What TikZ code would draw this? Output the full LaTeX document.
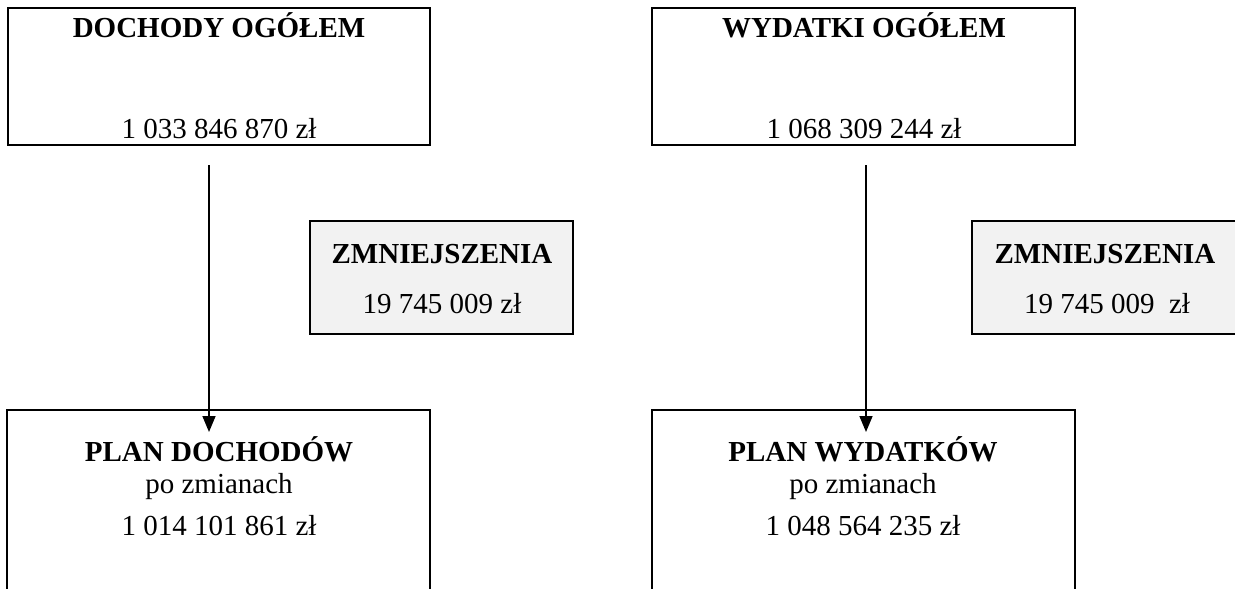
\documentclass[tikz,border=0pt]{standalone}
\usepackage{fontspec}
\setmainfont{Liberation Serif}
\usetikzlibrary{arrows.meta}
\definecolor{boxgrey}{HTML}{F2F2F2}
\begin{document}
\begin{tikzpicture}[x=1pt,y=-1pt,
  box/.style={draw=black,line width=2pt,fill=white,rectangle,inner sep=0pt,outer sep=0pt,anchor=north west},
  greybox/.style={box,fill=boxgrey},
  txt/.style={anchor=base,inner sep=0pt,font=\fontsize{29}{34}\selectfont},
  btxt/.style={anchor=base,inner sep=0pt,font=\fontsize{29}{34}\selectfont\bfseries},
  arr/.style={line width=1.6pt,-{Triangle[width=13pt,length=16pt]}}]
\useasboundingbox (0,0) rectangle (1235,589);
\clip (0,0) rectangle (1235,589);
% boxes
\node[box,minimum width=422pt,minimum height=137pt] (tl) at (8,8) {};
\node[box,minimum width=423pt,minimum height=137pt] (tr) at (652,8) {};
\node[greybox,minimum width=263pt,minimum height=113pt] (zl) at (310,221) {};
\node[greybox,minimum width=290pt,minimum height=113pt] (zr) at (972,221) {};
\node[box,minimum width=423pt,minimum height=220pt] (bl) at (7,410) {};
\node[box,minimum width=423pt,minimum height=220pt] (br) at (652,410) {};
% texts
\node[btxt] (tlt) at (219,37) {DOCHODY OGÓŁEM};
\node[txt] (tlv) at (219,138) {1 033 846 870 zł};
\node[btxt] (trt) at (864,37) {WYDATKI OGÓŁEM};
\node[txt] (trv) at (864,138) {1 068 309 244 zł};
\node[btxt] (zlt) at (442,263) {ZMNIEJSZENIA};
\node[txt] (zlv) at (442,313) {19 745 009 zł};
\node[btxt] (zrt) at (1105,263) {ZMNIEJSZENIA};
\node[txt] (zrv) at (1107,313) {19 745 009\ \ zł};
\node[btxt] (blt) at (219,461) {PLAN DOCHODÓW};
\node[txt] (bls) at (219,493) {po zmianach};
\node[txt] (blv) at (219,535) {1 014 101 861 zł};
\node[btxt] (brt) at (863,461) {PLAN WYDATKÓW};
\node[txt] (brs) at (863,493) {po zmianach};
\node[txt] (brv) at (863,535) {1 048 564 235 zł};
% arrows
\coordinate (a1s) at (209,165);
\coordinate (a1e) at (209,432);
\coordinate (a2s) at (866,165);
\coordinate (a2e) at (866,432);
\draw[arr] (a1s) -- (a1e);
\draw[arr] (a2s) -- (a2e);
\end{tikzpicture}
\end{document}
